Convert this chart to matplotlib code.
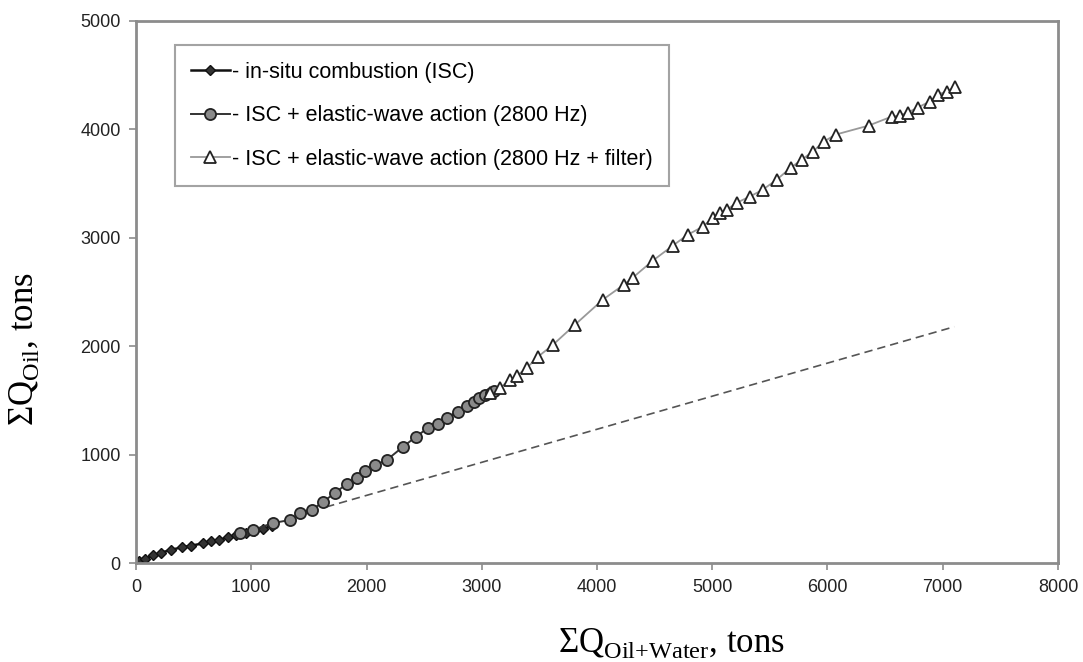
import matplotlib
matplotlib.use("Agg")
import matplotlib.pyplot as plt

# cumulative oil vs cumulative liquid, tons
isc_x = [0, 30, 80, 150, 220, 300, 400, 480, 580, 650, 720, 800, 870, 950, 1020, 1100, 1180]
isc_y = [0, 20, 45, 75, 100, 125, 150, 165, 185, 205, 220, 240, 260, 280, 300, 320, 345]

wave_x = [900, 1015, 1188, 1336, 1422, 1526, 1622, 1726, 1830, 1917, 1986, 2073, 2177, 2316,
          2428, 2533, 2620, 2700, 2790, 2870, 2930, 2980, 3030, 3080, 3110]
wave_y = [281, 309, 373, 401, 465, 494, 567, 650, 735, 788, 850, 905, 955, 1075,
          1167, 1250, 1290, 1345, 1400, 1450, 1490, 1525, 1550, 1575, 1590]

filt_x = [3070, 3157, 3244, 3304, 3391, 3487, 3617, 3808, 4050, 4232, 4310, 4484, 4657, 4787,
          4917, 5004, 5065, 5126, 5212, 5325, 5438, 5560, 5681, 5776, 5872, 5967, 6071,
          6357, 6557, 6626, 6696, 6783, 6886, 6956, 7034, 7103]
filt_y = [1573, 1619, 1693, 1730, 1803, 1905, 2015, 2200, 2431, 2569, 2634, 2791, 2929, 3030,
          3104, 3187, 3233, 3261, 3325, 3381, 3445, 3538, 3648, 3722, 3796, 3888, 3953,
          4036, 4119, 4128, 4156, 4202, 4257, 4322, 4350, 4387]

trend_x = [1650, 7100]
trend_y = [521, 2182]

plt.rcParams['mathtext.fontset'] = 'custom'
plt.rcParams['mathtext.rm'] = 'Liberation Serif'
plt.rcParams['font.family'] = 'Liberation Sans'

fig = plt.figure(figsize=(10.83, 6.62), dpi=100)
ax = fig.add_axes([0.1256, 0.1488, 0.8513, 0.8195])

ax.plot(trend_x, trend_y, '--', color='#555555', lw=1.2, dashes=(5, 3))
ax.plot(isc_x, isc_y, '-', color='#111111', lw=1.8, marker='D', ms=5,
        mfc='#333333', mec='#111111', label='- in-situ combustion (ISC)')
ax.plot(wave_x, wave_y, '-', color='#333333', lw=1.4, marker='o', ms=8,
        mfc='#8a8a8a', mec='#222222', mew=1.3,
        label='- ISC + elastic-wave action (2800 Hz)')
ax.plot(filt_x, filt_y, '-', color='#999999', lw=1.3, marker='^', ms=9,
        mfc='white', mec='#222222', mew=1.3,
        label='- ISC + elastic-wave action (2800 Hz + filter)')

ax.set_xlim(0, 8000)
ax.set_ylim(0, 5000)
ax.set_xticks(range(0, 8001, 1000))
ax.set_yticks(range(0, 5001, 1000))

for s in ax.spines.values():
    s.set_color('#8c8c8c')
    s.set_linewidth(2)
ax.tick_params(direction='out', length=5, width=1.2, color='#8c8c8c',
               labelsize=13, labelcolor='#222222', pad=6)

ax.set_xlabel(r'$\Sigma\mathrm{Q}_{\mathrm{Oil{+}Water}}$, tons', fontsize=25,
              family='Liberation Serif')
ax.set_ylabel(r'$\Sigma\mathrm{Q}_{\mathrm{Oil}}$, tons', fontsize=25,
              family='Liberation Serif')
ax.xaxis.set_label_coords(0.581, -0.116)
ax.yaxis.set_label_coords(-0.103, 0.395)

leg = ax.legend(loc='upper left', bbox_to_anchor=(0.042, 0.955), fontsize=15.5,
                frameon=True, fancybox=False, edgecolor='#8c8c8c',
                handlelength=1.8, handletextpad=0.1, labelspacing=1.05,
                borderpad=0.75, borderaxespad=0)
leg.get_frame().set_linewidth(1.5)

fig.savefig('out.png', dpi=100)
